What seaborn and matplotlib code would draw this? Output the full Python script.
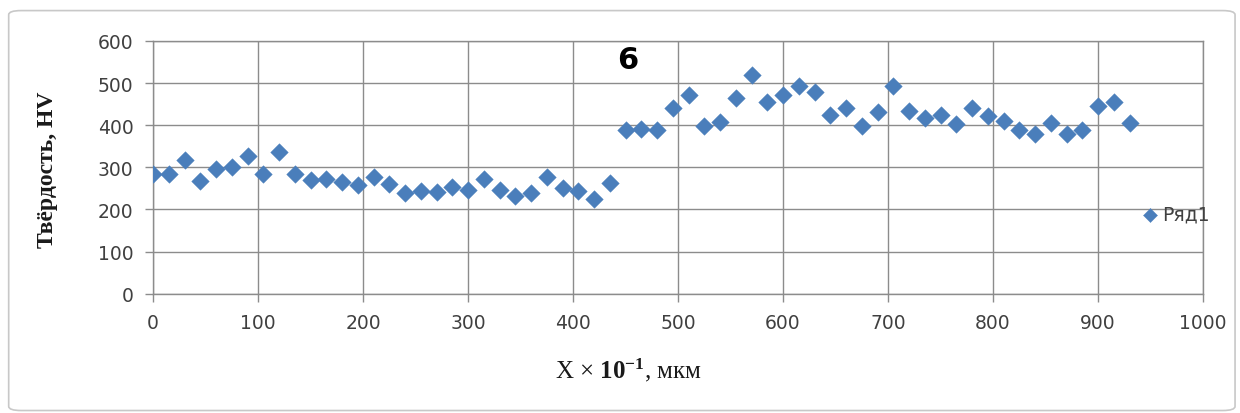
import numpy as np
import pandas as pd
import matplotlib
matplotlib.use("Agg")
import matplotlib.pyplot as plt
import seaborn as sns
from matplotlib.patches import FancyBboxPatch

# ---- data ----
x_pos = [0, 15, 30, 45, 60, 75, 90, 105, 120, 135, 150, 165, 180, 195, 210, 225,
         240, 255, 270, 285, 300, 315, 330, 345, 360, 375, 390, 405, 420, 435,
         450, 465, 480, 495, 510, 525, 540, 555, 570, 585, 600, 615, 630, 645,
         660, 675, 690, 705, 720, 735, 750, 765, 780, 795, 810, 825, 840, 855,
         870, 885, 900, 915, 930]
hardness = [285, 284, 318, 268, 295, 301, 326, 283, 337, 285, 270, 272, 266, 258,
            276, 260, 238, 244, 241, 254, 247, 273, 247, 232, 238, 277, 250, 244,
            225, 262, 389, 391, 389, 440, 471, 397, 408, 465, 520, 456, 471, 493,
            480, 424, 442, 399, 431, 493, 434, 417, 424, 403, 442, 421, 411, 389,
            379, 406, 379, 389, 446, 454, 405]
series_name = "Ряд1"
x_ticks = [0, 100, 200, 300, 400, 500, 600, 700, 800, 900, 1000]
y_ticks = [0, 100, 200, 300, 400, 500, 600]
panel_label = "6"
y_title = "Твёрдость, HV"
x_title = r"X × $\mathbf{10^{-1}}$, мкм"

df = pd.DataFrame({"x": x_pos, "y": hardness})

sns.set_theme(style="white")
plt.rcParams["font.family"] = ["DejaVu Sans"]
plt.rcParams["mathtext.fontset"] = "custom"
plt.rcParams["mathtext.rm"] = "Liberation Serif"
plt.rcParams["mathtext.bf"] = "Liberation Serif:bold"
plt.rcParams["mathtext.it"] = "Liberation Serif:italic"

fig = plt.figure(figsize=(12.4, 4.14), dpi=100)
fig.patch.set_facecolor("white")

# outer rounded border
border = FancyBboxPatch((0.007, 0.006), 0.989, 0.966,
                        boxstyle="round,pad=0,rounding_size=0.01",
                        transform=fig.transFigure, facecolor="none",
                        edgecolor="#C8C8C8", linewidth=1.2)
fig.patches.append(border)

ax = fig.add_axes([153/1240, (414-294.6)/414, 1050/1240, (294.6-42)/414])

sns.scatterplot(data=df, x="x", y="y", ax=ax, marker="D", s=80,
                color="#4A7EBB", edgecolor="#4A7EBB", linewidth=0.3,
                label=series_name, zorder=3)

ax.set_xlim(0, 1000)
ax.set_ylim(0, 600)
ax.set_xticks(x_ticks)
ax.set_yticks(y_ticks)
ax.grid(True, color="#8C8C8C", linewidth=1.0)
ax.set_axisbelow(True)
for sp in ax.spines.values():
    sp.set_color("#8C8C8C")
    sp.set_linewidth(1.0)
ax.tick_params(axis="both", which="major", direction="out", length=6,
               width=1.0, color="#8C8C8C", labelsize=13.5, labelcolor="#404040",
               bottom=True, left=True)
ax.tick_params(axis="y", pad=8)
ax.tick_params(axis="x", pad=8)
ax.set_xlabel("")
ax.set_ylabel("")

fig.text(48/1240, 1 - 170/414, y_title, rotation=90, ha="center", va="center",
         fontsize=17, fontweight="bold", family="Liberation Serif", color="#1a1a1a")
fig.text(628/1240, 1 - 370/414, x_title, ha="center", va="center",
         fontsize=18, family="Liberation Serif", color="#1a1a1a")

ax.text(452, 557, panel_label, ha="center", va="center", fontsize=22,
        fontweight="bold", color="black", zorder=4)

leg = ax.legend(loc="center left", bbox_to_anchor=(1142/1240, 1 - 215/414),
                bbox_transform=fig.transFigure, frameon=False, borderpad=0,
                borderaxespad=0, handlelength=0.8, handletextpad=0.3,
                fontsize=13.5, markerscale=0.8)
for t in leg.get_texts():
    t.set_color("#404040")

fig.savefig("out.png", dpi=100, facecolor="white")
